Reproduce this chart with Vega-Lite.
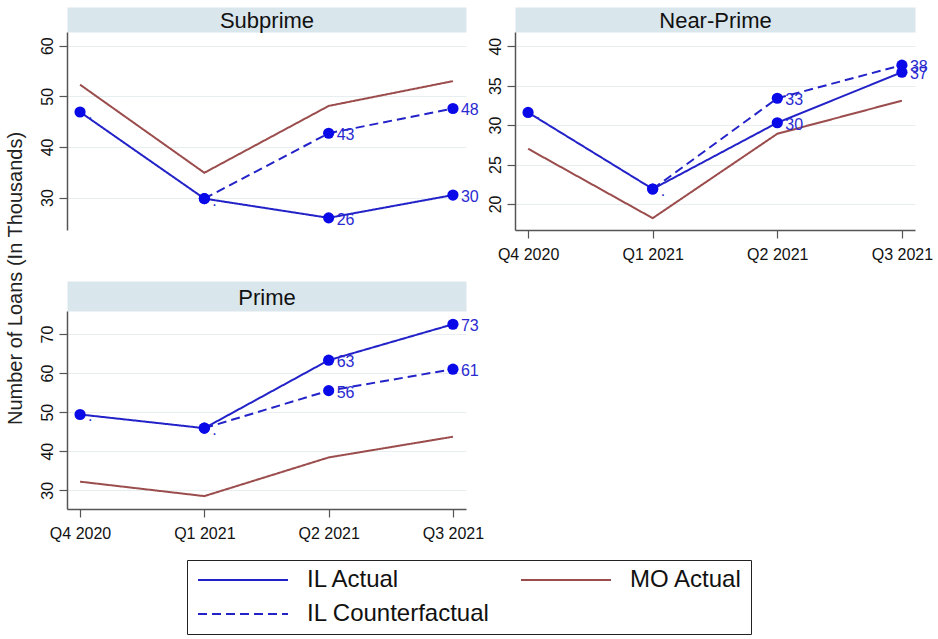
{
  "$schema": "https://vega.github.io/schema/vega-lite/v6.json",
  "padding": {"left": 5, "top": 9, "right": 5, "bottom": 0},
  "background": "white",
  "datasets": {
    "loans": [
      {"panel": "Subprime", "quarter": "Q4 2020", "series": "IL Actual", "value": 46.9, "label": "."},
      {"panel": "Subprime", "quarter": "Q1 2021", "series": "IL Actual", "value": 29.8, "label": "."},
      {"panel": "Subprime", "quarter": "Q2 2021", "series": "IL Actual", "value": 26.0, "label": "26"},
      {"panel": "Subprime", "quarter": "Q3 2021", "series": "IL Actual", "value": 30.5, "label": "30"},
      {"panel": "Subprime", "quarter": "Q1 2021", "series": "IL Counterfactual", "value": 29.8, "label": null},
      {"panel": "Subprime", "quarter": "Q2 2021", "series": "IL Counterfactual", "value": 42.7, "label": "43"},
      {"panel": "Subprime", "quarter": "Q3 2021", "series": "IL Counterfactual", "value": 47.6, "label": "48"},
      {"panel": "Subprime", "quarter": "Q4 2020", "series": "MO Actual", "value": 52.3, "label": null},
      {"panel": "Subprime", "quarter": "Q1 2021", "series": "MO Actual", "value": 34.9, "label": null},
      {"panel": "Subprime", "quarter": "Q2 2021", "series": "MO Actual", "value": 48.1, "label": null},
      {"panel": "Subprime", "quarter": "Q3 2021", "series": "MO Actual", "value": 53.0, "label": null},
      {"panel": "Near-Prime", "quarter": "Q4 2020", "series": "IL Actual", "value": 31.6, "label": "."},
      {"panel": "Near-Prime", "quarter": "Q1 2021", "series": "IL Actual", "value": 21.9, "label": "."},
      {"panel": "Near-Prime", "quarter": "Q2 2021", "series": "IL Actual", "value": 30.3, "label": "30"},
      {"panel": "Near-Prime", "quarter": "Q3 2021", "series": "IL Actual", "value": 36.7, "label": "37"},
      {"panel": "Near-Prime", "quarter": "Q1 2021", "series": "IL Counterfactual", "value": 21.9, "label": null},
      {"panel": "Near-Prime", "quarter": "Q2 2021", "series": "IL Counterfactual", "value": 33.4, "label": "33"},
      {"panel": "Near-Prime", "quarter": "Q3 2021", "series": "IL Counterfactual", "value": 37.6, "label": "38"},
      {"panel": "Near-Prime", "quarter": "Q4 2020", "series": "MO Actual", "value": 27.0, "label": null},
      {"panel": "Near-Prime", "quarter": "Q1 2021", "series": "MO Actual", "value": 18.2, "label": null},
      {"panel": "Near-Prime", "quarter": "Q2 2021", "series": "MO Actual", "value": 28.9, "label": null},
      {"panel": "Near-Prime", "quarter": "Q3 2021", "series": "MO Actual", "value": 33.1, "label": null},
      {"panel": "Prime", "quarter": "Q4 2020", "series": "IL Actual", "value": 49.4, "label": "."},
      {"panel": "Prime", "quarter": "Q1 2021", "series": "IL Actual", "value": 45.9, "label": "."},
      {"panel": "Prime", "quarter": "Q2 2021", "series": "IL Actual", "value": 63.3, "label": "63"},
      {"panel": "Prime", "quarter": "Q3 2021", "series": "IL Actual", "value": 72.5, "label": "73"},
      {"panel": "Prime", "quarter": "Q1 2021", "series": "IL Counterfactual", "value": 45.9, "label": null},
      {"panel": "Prime", "quarter": "Q2 2021", "series": "IL Counterfactual", "value": 55.5, "label": "56"},
      {"panel": "Prime", "quarter": "Q3 2021", "series": "IL Counterfactual", "value": 61.0, "label": "61"},
      {"panel": "Prime", "quarter": "Q4 2020", "series": "MO Actual", "value": 32.2, "label": null},
      {"panel": "Prime", "quarter": "Q1 2021", "series": "MO Actual", "value": 28.5, "label": null},
      {"panel": "Prime", "quarter": "Q2 2021", "series": "MO Actual", "value": 38.4, "label": null},
      {"panel": "Prime", "quarter": "Q3 2021", "series": "MO Actual", "value": 43.7, "label": null}
    ]
  },
  "columns": 2,
  "bounds": "flush",
  "spacing": {"row": 81, "column": 49},
  "resolve": {"scale": {"x": "independent", "y": "independent"}},
  "concat": [
    {
      "width": 399, "height": 198,
      "data": {"name": "loans"},
      "transform": [{"filter": "datum.panel === 'Subprime'"}],
      "resolve": {"axis": {"x": "independent"}},
      "encoding": {
        "y": {"field": "value", "type": "quantitative", "scale": {"domain": [23.6, 62.7], "nice": false, "zero": false},
          "axis": {"values": [30, 40, 50, 60], "title": "Number of Loans (In Thousands)", "titleX": -52, "titleY": 246, "titleAngle": -90, "titleBaseline": "middle", "titleAlign": "center", "titleFontSize": 20, "titleFontWeight": "normal", "titleColor": "#222222"}}
      },
      "layer": [
        {
          "mark": {"type": "line", "strokeWidth": 2},
          "encoding": {
            "x": {"field": "quarter", "type": "ordinal", "sort": ["Q4 2020", "Q1 2021", "Q2 2021", "Q3 2021"], "scale": {"type": "point", "padding": 0.105},
              "axis": {"orient": "top", "title": "Subprime", "labels": false, "ticks": false, "grid": false, "domainColor": "#d9e6ec", "domainWidth": 25, "domainCap": "butt", "offset": 12.5, "titleY": 1, "titleBaseline": "middle", "titleFontSize": 22, "titleFontWeight": "normal", "titleColor": "#111111"}},
            "color": {"field": "series", "type": "nominal", "scale": {"domain": ["IL Actual", "MO Actual", "IL Counterfactual"], "range": ["#2222c8", "#9b4d4d", "#2222c8"]}, "legend": {"title": null, "orient": "none", "direction": "horizontal", "values": ["IL Actual", "MO Actual", "IL Counterfactual"], "legendX": 120, "legendY": 528, "columns": 2, "columnPadding": 27, "rowPadding": 10, "symbolType": "M-1,0H9", "symbolSize": 324, "symbolStrokeWidth": 2, "labelFontSize": 24, "labelOffset": 88, "labelColor": "#111111", "padding": 8, "strokeColor": "#222222", "labelLimit": 400}},
            "strokeDash": {"field": "series", "type": "nominal", "scale": {"domain": ["IL Actual", "MO Actual", "IL Counterfactual"], "range": [[1, 0], [1, 0], [9, 5]]}, "legend": {"title": null, "orient": "none", "direction": "horizontal", "values": ["IL Actual", "MO Actual", "IL Counterfactual"], "legendX": 120, "legendY": 528, "columns": 2, "columnPadding": 27, "rowPadding": 10, "symbolType": "M-1,0H9", "symbolSize": 324, "symbolStrokeWidth": 2, "labelFontSize": 24, "labelOffset": 88, "labelColor": "#111111", "padding": 8, "strokeColor": "#222222", "labelLimit": 400}}
          }
        },
        {
          "transform": [{"filter": "datum.series !== 'MO Actual'"}],
          "mark": {"type": "circle", "size": 125, "opacity": 1, "color": "#0a0ae8"},
          "encoding": {
            "x": {"field": "quarter", "type": "ordinal", "sort": ["Q4 2020", "Q1 2021", "Q2 2021", "Q3 2021"], "axis": null}
          }
        },
        {
          "transform": [{"filter": "datum.label != null"}],
          "mark": {"type": "text", "align": "left", "baseline": "middle", "dx": 8, "dy": 2, "fontSize": 16, "color": "#2a2ad0"},
          "encoding": {
            "x": {"field": "quarter", "type": "ordinal", "sort": ["Q4 2020", "Q1 2021", "Q2 2021", "Q3 2021"], "axis": null},
            "text": {"field": "label"}
          }
        }
      ]
    },
    {
      "width": 400, "height": 198,
      "data": {"name": "loans"},
      "transform": [{"filter": "datum.panel === 'Near-Prime'"}],
      "resolve": {"axis": {"x": "independent"}},
      "encoding": {
        "y": {"field": "value", "type": "quantitative", "scale": {"domain": [16.7, 41.8], "nice": false, "zero": false}, "axis": {"values": [20, 25, 30, 35, 40], "title": null}}
      },
      "layer": [
        {
          "mark": {"type": "line", "strokeWidth": 2},
          "encoding": {
            "x": {"field": "quarter", "type": "ordinal", "sort": ["Q4 2020", "Q1 2021", "Q2 2021", "Q3 2021"], "scale": {"type": "point", "padding": 0.105},
              "axis": {"orient": "top", "title": "Near-Prime", "labels": false, "ticks": false, "grid": false, "domainColor": "#d9e6ec", "domainWidth": 25, "domainCap": "butt", "offset": 12.5, "titleY": 1, "titleBaseline": "middle", "titleFontSize": 22, "titleFontWeight": "normal", "titleColor": "#111111"}},
            "color": {"field": "series", "type": "nominal", "scale": {"domain": ["IL Actual", "MO Actual", "IL Counterfactual"], "range": ["#2222c8", "#9b4d4d", "#2222c8"]}, "legend": {"title": null, "orient": "none", "direction": "horizontal", "values": ["IL Actual", "MO Actual", "IL Counterfactual"], "legendX": 120, "legendY": 528, "columns": 2, "columnPadding": 27, "rowPadding": 10, "symbolType": "M-1,0H9", "symbolSize": 324, "symbolStrokeWidth": 2, "labelFontSize": 24, "labelOffset": 88, "labelColor": "#111111", "padding": 8, "strokeColor": "#222222", "labelLimit": 400}},
            "strokeDash": {"field": "series", "type": "nominal", "scale": {"domain": ["IL Actual", "MO Actual", "IL Counterfactual"], "range": [[1, 0], [1, 0], [9, 5]]}, "legend": {"title": null, "orient": "none", "direction": "horizontal", "values": ["IL Actual", "MO Actual", "IL Counterfactual"], "legendX": 120, "legendY": 528, "columns": 2, "columnPadding": 27, "rowPadding": 10, "symbolType": "M-1,0H9", "symbolSize": 324, "symbolStrokeWidth": 2, "labelFontSize": 24, "labelOffset": 88, "labelColor": "#111111", "padding": 8, "strokeColor": "#222222", "labelLimit": 400}}
          }
        },
        {
          "transform": [{"filter": "datum.series !== 'MO Actual'"}],
          "mark": {"type": "circle", "size": 125, "opacity": 1, "color": "#0a0ae8"},
          "encoding": {
            "x": {"field": "quarter", "type": "ordinal", "sort": ["Q4 2020", "Q1 2021", "Q2 2021", "Q3 2021"], "axis": {"orient": "bottom", "title": null, "labelAngle": 0, "grid": false}}
          }
        },
        {
          "transform": [{"filter": "datum.label != null"}],
          "mark": {"type": "text", "align": "left", "baseline": "middle", "dx": 8, "dy": 2, "fontSize": 16, "color": "#2a2ad0"},
          "encoding": {
            "x": {"field": "quarter", "type": "ordinal", "sort": ["Q4 2020", "Q1 2021", "Q2 2021", "Q3 2021"], "axis": null},
            "text": {"field": "label"}
          }
        }
      ]
    },
    {
      "width": 399, "height": 198,
      "data": {"name": "loans"},
      "transform": [{"filter": "datum.panel === 'Prime'"}],
      "resolve": {"axis": {"x": "independent"}},
      "encoding": {
        "y": {"field": "value", "type": "quantitative", "scale": {"domain": [25.2, 75.9], "nice": false, "zero": false}, "axis": {"values": [30, 40, 50, 60, 70], "title": null}}
      },
      "layer": [
        {
          "mark": {"type": "line", "strokeWidth": 2},
          "encoding": {
            "x": {"field": "quarter", "type": "ordinal", "sort": ["Q4 2020", "Q1 2021", "Q2 2021", "Q3 2021"], "scale": {"type": "point", "padding": 0.105},
              "axis": {"orient": "top", "title": "Prime", "labels": false, "ticks": false, "grid": false, "domainColor": "#d9e6ec", "domainWidth": 30, "domainCap": "butt", "offset": 15, "titleY": 1, "titleBaseline": "middle", "titleFontSize": 22, "titleFontWeight": "normal", "titleColor": "#111111"}},
            "color": {"field": "series", "type": "nominal", "scale": {"domain": ["IL Actual", "MO Actual", "IL Counterfactual"], "range": ["#2222c8", "#9b4d4d", "#2222c8"]}, "legend": {"title": null, "orient": "none", "direction": "horizontal", "values": ["IL Actual", "MO Actual", "IL Counterfactual"], "legendX": 120, "legendY": 528, "columns": 2, "columnPadding": 27, "rowPadding": 10, "symbolType": "M-1,0H9", "symbolSize": 324, "symbolStrokeWidth": 2, "labelFontSize": 24, "labelOffset": 88, "labelColor": "#111111", "padding": 8, "strokeColor": "#222222", "labelLimit": 400}},
            "strokeDash": {"field": "series", "type": "nominal", "scale": {"domain": ["IL Actual", "MO Actual", "IL Counterfactual"], "range": [[1, 0], [1, 0], [9, 5]]}, "legend": {"title": null, "orient": "none", "direction": "horizontal", "values": ["IL Actual", "MO Actual", "IL Counterfactual"], "legendX": 120, "legendY": 528, "columns": 2, "columnPadding": 27, "rowPadding": 10, "symbolType": "M-1,0H9", "symbolSize": 324, "symbolStrokeWidth": 2, "labelFontSize": 24, "labelOffset": 88, "labelColor": "#111111", "padding": 8, "strokeColor": "#222222", "labelLimit": 400}}
          }
        },
        {
          "transform": [{"filter": "datum.series !== 'MO Actual'"}],
          "mark": {"type": "circle", "size": 125, "opacity": 1, "color": "#0a0ae8"},
          "encoding": {
            "x": {"field": "quarter", "type": "ordinal", "sort": ["Q4 2020", "Q1 2021", "Q2 2021", "Q3 2021"], "axis": {"orient": "bottom", "title": null, "labelAngle": 0, "grid": false}}
          }
        },
        {
          "transform": [{"filter": "datum.label != null"}],
          "mark": {"type": "text", "align": "left", "baseline": "middle", "dx": 8, "dy": 2, "fontSize": 16, "color": "#2a2ad0"},
          "encoding": {
            "x": {"field": "quarter", "type": "ordinal", "sort": ["Q4 2020", "Q1 2021", "Q2 2021", "Q3 2021"], "axis": null},
            "text": {"field": "label"}
          }
        }
      ]
    }
  ],
  "config": {
    "font": "Liberation Sans",
    "view": {"stroke": null},
    "axis": {
      "labelFontSize": 16,
      "labelColor": "#111111",
      "labelFont": "Liberation Sans",
      "tickSize": 8,
      "tickColor": "#555555",
      "tickWidth": 1.2,
      "domainColor": "#555555",
      "domainWidth": 1.5,
      "gridColor": "#e6eef0",
      "gridWidth": 1,
      "labelPadding": 5
    },
    "axisY": {"labelAngle": -90, "grid": true, "labelPadding": 4},
    "axisX": {"grid": false, "labelPadding": 8}
  }
}
